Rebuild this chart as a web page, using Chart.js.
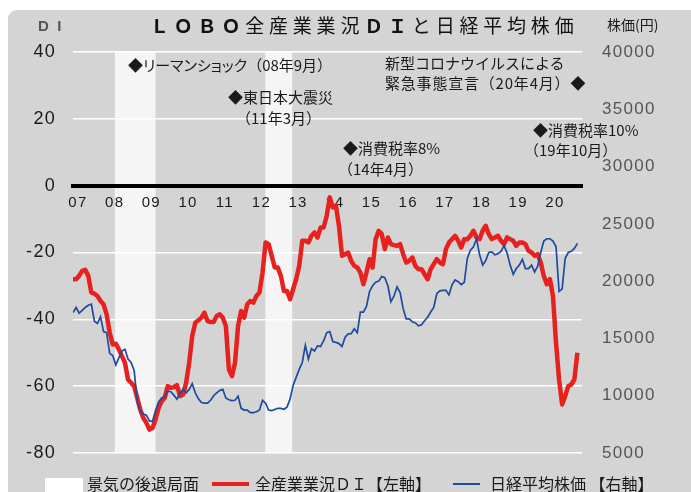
<!DOCTYPE html>
<html lang="ja">
<head>
<meta charset="UTF-8">
<title>LOBO全産業業況DIと日経平均株価</title>
<script src="https://cdn.jsdelivr.net/npm/chart.js"></script>
<style>
  body { margin: 0; background: #fff; font-family: "Noto Sans CJK JP", sans-serif; }
  .wrap { position: relative; width: 691px; height: 492px; overflow: hidden; }
  .panel { position: absolute; left: 8px; top: 10px; right: 0; bottom: 0; background: #d4d4d4; border-top-left-radius: 9px; }
  .chart-box { position: absolute; left: 0; top: 0; width: 691px; height: 492px; }
  .txt { position: absolute; white-space: nowrap; line-height: 1; color: #1a1a1a; font-size: 15px; }
  .title { left: 150px; top: 15px; font-size: 19px; letter-spacing: 4.8px; color: #111; }
  .title b { font-weight: 700; }
  .palt { font-feature-settings: "palt"; }
  .key { position: absolute; }
</style>
</head>
<body>
<div class="wrap">
  <div class="panel"></div>
  <div class="chart-box"><canvas id="c"></canvas></div>

  <div class="txt title"><b>ＬＯＢＯ</b>全産業業況<b>ＤＩ</b>と日経平均株価</div>
  <div class="txt" style="left:38px;top:18px;font-family:'Liberation Sans';font-weight:bold;color:#555;">D&nbsp;&nbsp;I</div>
  <div class="txt" style="left:607px;top:17px;font-size:14px;">株価(円)</div>

  <!-- 出来事の注記 -->
  <div class="txt" style="left:128px;top:57px;">◆<span class="palt">リーマンショック</span>（08年9月）</div>
  <div class="txt" style="left:228px;top:89px;">◆東日本大震災</div>
  <div class="txt" style="left:236px;top:110px;">（11年3月）</div>
  <div class="txt" style="left:343px;top:140px;">◆消費税率8%</div>
  <div class="txt" style="left:338px;top:161px;">（14年4月）</div>
  <div class="txt" style="left:385px;top:55px;">新型コロナウイルスによる</div>
  <div class="txt" style="left:385px;top:75px;letter-spacing:0.8px;">緊急事態宣言（20年4月）◆</div>
  <div class="txt" style="left:533px;top:122px;">◆消費税率10%</div>
  <div class="txt" style="left:524px;top:142px;">（19年10月）</div>

  <!-- 凡例 -->
  <div class="key" style="left:45px;top:478px;width:38px;height:14px;background:#fff;"></div>
  <div class="txt" style="left:87px;top:475px;font-size:16px;">景気の後退局面</div>
  <div class="key" style="left:212px;top:482px;width:37px;height:4px;background:#e6211e;"></div>
  <div class="txt" style="left:255px;top:475px;font-size:16px;">全産業業況ＤＩ【左軸】</div>
  <div class="key" style="left:453px;top:483px;width:27px;height:2px;background:#1e4ba0;"></div>
  <div class="txt" style="left:490px;top:475px;font-size:16px;">日経平均株価 【右軸】</div>
</div>

<script>
  // 月次データ（2007年1月 = 0）
  const yearLabels = ['07','08','09','10','11','12','13','14','15','16','17','18','19','20'];

  // 景気後退局面（開始月, 終了月）
  const recessions = [[13.7, 27], [62.9, 71.7]];

  // 全産業業況DI（左軸）
  const di = [
    -28, -28, -27, -25.5, -25.2, -27, -32, -32.3, -33, -34.5,
    -35.5, -38.5, -44, -47.5, -47.3, -49, -51, -53, -58, -59,
    -60, -63.5, -67, -69.5, -71, -73, -72.5, -70, -66.5, -64.5,
    -63.5, -60, -60.5, -60.3, -59.7, -63, -62.5, -59, -53, -45,
    -41, -40.3, -39.5, -38, -40.5, -40.8, -40.8, -39, -38.5, -39.5,
    -42, -55, -57, -53, -42, -37.5, -39.5, -35.5, -34.5, -35,
    -33, -32, -26, -17, -17.5, -21, -24.5, -24.5, -27, -31.5,
    -31.5, -34, -31, -28, -24, -16.5, -16.5, -17, -15, -14,
    -15.5, -12.5, -12.5, -9, -3.5, -6.5, -6, -12, -21, -20.5,
    -20, -22.5, -24, -24.5, -26, -29.5, -26, -22, -24.5, -16,
    -13.5, -14.5, -19, -15.5, -17.5, -17.8, -18, -17.5, -20.5, -23,
    -22.5, -21.5, -24, -25, -25, -26.5, -28, -25, -23.5, -22,
    -23, -23.5, -19, -17, -16, -15, -16.5, -18.5, -16, -16,
    -15, -13.5, -15.5, -16, -13.5, -12, -14.5, -16, -15.5, -15,
    -16.5, -17.5, -15.5, -16, -16.5, -18, -17, -17, -17.5, -19.5,
    -20, -21, -20.5, -23, -27, -29.5, -28, -33, -47, -58,
    -65.5, -63, -60, -59.5, -58, -50
  ];

  // 日経平均株価（右軸）
  const nikkei = [
    17250, 17700, 17200, 17450, 17700, 17900, 18000, 16500, 16300, 16900,
    15600, 15500, 13700, 13500, 12700, 13300, 13900, 14050, 13200, 12900,
    12200, 9500, 8600, 8400, 8300, 7800, 7750, 8700, 9450, 9800,
    9900, 10400, 10350, 10050, 9700, 10200, 10550, 10250, 10550, 11050,
    10250, 9750, 9400, 9350, 9350, 9600, 10000, 10250, 10450, 10550,
    9800, 9650, 9580, 9600, 9950, 8900, 8750, 8750, 8520, 8520,
    8600, 8750, 9600, 9350, 8750, 8700, 8800, 8900, 8900, 8820,
    9000, 9700, 10900, 11600, 12300, 12900, 14400, 13200, 14100, 13900,
    14350, 14300, 14800, 15500, 15600, 14700, 14650, 14550, 14300, 15100,
    15400, 15420, 15850, 15500, 17300, 17300, 17800, 19100, 19600, 19900,
    20000, 20400, 20300, 19600, 18200, 18700, 19500, 19000, 17600, 16700,
    16700, 16450, 16350, 16100, 16200, 16550, 16850, 17300, 17700, 18900,
    19150, 19200, 19200, 18800, 19700, 20100, 19950, 19700, 19900, 22000,
    22700, 23000, 23700, 22300, 21400, 21800, 22500, 22550, 22300, 22400,
    22600, 23100, 22450, 21400, 20600, 21100, 21400, 21900, 21100, 21100,
    21400, 20800, 21300, 22500, 23500, 23700, 23700, 23500, 23000, 19100,
    19300, 22000, 22500, 22600, 22850, 23300
  ];

  const toPoints = arr => arr.map((v, i) => ({ x: i, y: v }));

  // 字間（キャンバス全体）
  const spacingPlugin = {
    id: 'spacing',
    beforeUpdate(chart) { chart.ctx.letterSpacing = '1.3px'; },
    beforeDraw(chart) { chart.ctx.letterSpacing = '1.3px'; }
  };

  // 後退局面の帯
  const bandPlugin = {
    id: 'bands',
    beforeDraw(chart) {
      const { ctx, chartArea, scales } = chart;
      ctx.save();
      ctx.fillStyle = '#f5f5f5';
      recessions.forEach(([s, e]) => {
        const x1 = scales.x.getPixelForValue(s);
        const x2 = scales.x.getPixelForValue(e);
        ctx.fillRect(x1, chartArea.top, x2 - x1, chartArea.bottom - chartArea.top);
      });
      ctx.restore();
    }
  };

  new Chart(document.getElementById('c'), {
    type: 'line',
    data: {
      datasets: [
        {
          label: '日経平均株価',
          data: toPoints(nikkei),
          yAxisID: 'y1',
          borderColor: '#1e4ba0',
          borderWidth: 1.7,
          pointRadius: 0,
          tension: 0
        },
        {
          label: '全産業業況DI',
          data: toPoints(di),
          yAxisID: 'y',
          borderColor: '#e6211e',
          borderWidth: 4.5,
          pointRadius: 0,
          tension: 0,
          borderJoinStyle: 'round'
        }
      ]
    },
    options: {
      responsive: true,
      maintainAspectRatio: false,
      animation: false,
      layout: { padding: { top: 52, bottom: 39, left: 0, right: 0 } },
      plugins: { legend: { display: false }, tooltip: { enabled: false } },
      scales: {
        x: {
          type: 'linear',
          min: 0,
          max: 166.5,
          position: { y: 0 },
          grid: { display: false, drawTicks: false },
          border: { display: true, color: '#000', width: 4 },
          ticks: {
            stepSize: 12,
            includeBounds: false,
            autoSkip: false,
            maxRotation: 0,
            padding: 8,
            labelOffset: 5,
            color: '#1a1a1a',
            font: { family: 'Liberation Sans', size: 15 },
            callback: v => yearLabels[v / 12] ?? ''
          }
        },
        y: {
          position: 'left',
          min: -80,
          max: 40,
          afterFit: s => { s.width = 73; },
          grid: { color: '#ffffff', lineWidth: 1.5, drawTicks: false },
          border: { display: false },
          ticks: {
            stepSize: 20,
            padding: 17,
            color: '#1a1a1a',
            font: { family: 'Liberation Sans', size: 18 }
          }
        },
        y1: {
          position: 'right',
          min: 5000,
          max: 40000,
          afterFit: s => { s.width = 109; },
          grid: { display: false, drawTicks: false },
          border: { display: false },
          ticks: {
            stepSize: 5000,
            padding: 20,
            color: '#555',
            font: { family: 'Liberation Sans', size: 17 },
            callback: v => String(v)
          }
        }
      }
    },
    plugins: [spacingPlugin, bandPlugin]
  });
</script>
</body>
</html>
